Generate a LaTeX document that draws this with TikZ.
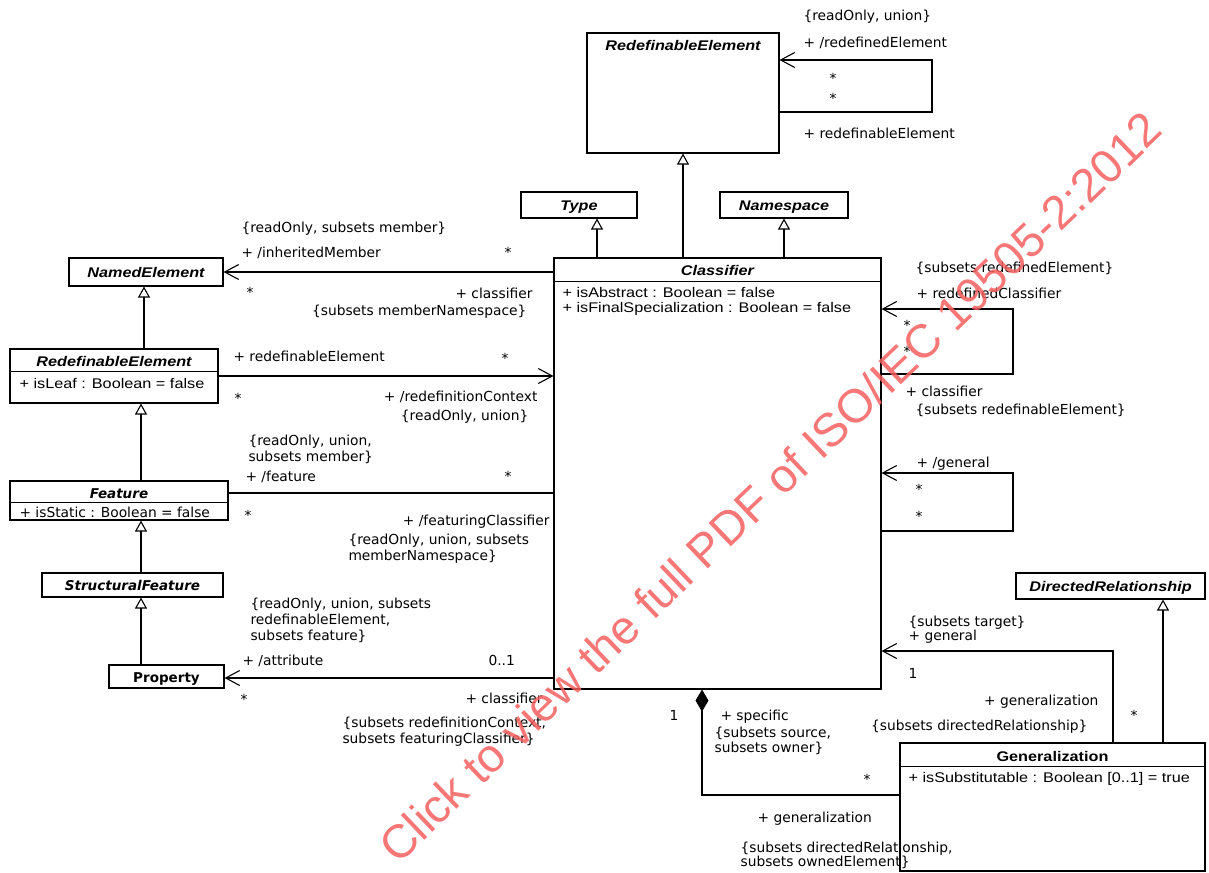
\documentclass[tikz,border=0pt]{standalone}
\usepackage{fontspec}
\usetikzlibrary{arrows.meta}
\newfontfamily\arialf[FakeStretch=1.16]{Liberation Sans}
\newfontfamily\verdf{DejaVu Sans}
\newfontfamily\wmfont{Liberation Sans}
\definecolor{wmred}{RGB}{246,96,96}

\begin{document}
\begin{tikzpicture}[x=1pt,y=-1pt,line width=1.1pt,
  box/.style={draw, inner sep=0pt},
  lab/.style={font=\verdf\fontsize{13.8}{16}\selectfont, inner sep=0pt},
  llab/.style={lab, anchor=base west},
  rlab/.style={lab, anchor=base east},
  star/.style={lab, anchor=base},
  mlab/.style={lab, align=left, anchor=north west},
  attr/.style={font=\arialf\fontsize{14}{15}\selectfont, inner sep=0pt, anchor=base west},
  cname/.style={font=\arialf\bfseries\itshape\fontsize{14}{16}\selectfont, inner sep=0pt, anchor=base},
  cnameb/.style={font=\arialf\bfseries\fontsize{14}{16}\selectfont, inner sep=0pt, anchor=base},
  vname/.style={font=\verdf\bfseries\itshape\fontsize{13.5}{16}\selectfont, inner sep=0pt, anchor=base},
  vnameb/.style={font=\verdf\bfseries\fontsize{13.5}{16}\selectfont, inner sep=0pt, anchor=base},
  inh/.style={-{Triangle[open, length=11pt, width=12pt]}},
  nav/.style={-{Straight Barb[length=14pt, width=15pt]}},
  comp/.style={-{Diamond[length=22pt, width=13pt]}},
]
\fill[white] (0,0) rectangle (1209,872);
\useasboundingbox (0,0) rectangle (1209,872);

% ---------- classes ----------
\node[box, minimum width=192pt, minimum height=120pt] (reTop) at (683,93) {};
\node[cname] (reTopT) at (683,51) {RedefinableElement};

\node[box, minimum width=116pt, minimum height=26pt] (type) at (579,205) {};
\node[cname] (typeT) at (579,210) {Type};

\node[box, minimum width=128pt, minimum height=26pt] (ns) at (784,205) {};
\node[cname] (nsT) at (784,210) {Namespace};

\node[box, minimum width=154pt, minimum height=28pt] (named) at (146,272) {};
\node[cname] (namedT) at (146,277) {NamedElement};

\node[box, minimum width=208pt, minimum height=54pt] (reLeft) at (114,376) {};
\draw ([yshift=-23pt]reLeft.north west) -- ([yshift=-23pt]reLeft.north east);
\node[cname] (reLeftT) at (114,366) {RedefinableElement};
\node[attr] (reLeftA) at (19,388) {+ isLeaf : Boolean = false};

\node[box, minimum width=218pt, minimum height=39pt] (feat) at (119,500.5) {};
\draw ([yshift=-22pt]feat.north west) -- ([yshift=-22pt]feat.north east);
\node[vname] (featT) at (119,498) {Feature};
\node[lab, anchor=base west] (featA) at (19,517) {+ isStatic : Boolean = false};

\node[box, minimum width=181pt, minimum height=24pt] (sf) at (132.5,585) {};
\node[vname] (sfT) at (132.5,590) {StructuralFeature};

\node[box, minimum width=115pt, minimum height=23pt] (prop) at (166.5,676.5) {};
\node[vnameb] (propT) at (166.5,682) {Property};

\node[box, minimum width=327pt, minimum height=431pt] (cls) at (717.5,473.5) {};
\draw ([yshift=-24pt]cls.north west) -- ([yshift=-24pt]cls.north east);
\node[cname] (clsT) at (717.5,275) {Classifier};
\node[attr] (clsA1) at (562,297) {+ isAbstract : Boolean = false};
\node[attr] (clsA2) at (562,312) {+ isFinalSpecialization : Boolean = false};

\node[box, minimum width=189pt, minimum height=26pt] (dr) at (1110.5,586) {};
\node[cname] (drT) at (1110.5,591) {DirectedRelationship};

\node[box, minimum width=305pt, minimum height=128pt] (gen) at (1052.5,807) {};
\draw ([yshift=-24pt]gen.north west) -- ([yshift=-24pt]gen.north east);
\node[cnameb] (genT) at (1052.5,761) {Generalization};
\node[attr] (genA) at (908,782) {+ isSubstitutable : Boolean [0..1] = true};

% ---------- bend points and line positions ----------
\coordinate (xType) at (597,0);
\coordinate (xNE) at (144,0);
\coordinate (xLeft) at (141,0);
\coordinate (xDR) at (1163,0);
\coordinate (yFeat) at (0,493);
\coordinate (rt1) at (932,60);
\coordinate (rt2) at (932,112);
\coordinate (rc1) at (1013,309);
\coordinate (rc2) at (1013,374);
\coordinate (gc1) at (1013,473);
\coordinate (gc2) at (1013,531);
\coordinate (gg) at (1113,651);
\coordinate (cp) at (702,795);

% ---------- generalizations ----------
\draw[inh] (cls.north -| reTop.south) -- (reTop.south);
\draw[inh] (cls.north -| xType) -- (type.south -| xType);
\draw[inh] (cls.north -| ns.south) -- (ns.south);
\draw[inh] (reLeft.north -| xNE) -- (named.south -| xNE);
\draw[inh] (feat.north -| xLeft) -- (reLeft.south -| xLeft);
\draw[inh] (sf.north -| xLeft) -- (feat.south -| xLeft);
\draw[inh] (prop.north -| xLeft) -- (sf.south -| xLeft);
\draw[inh] (gen.north -| xDR) -- (dr.south -| xDR);

% ---------- associations ----------
\draw[nav] (reTop.east |- rt2) -- (rt2) -- (rt1) -- (reTop.east |- rt1);
\draw[nav] (cls.west |- named.east) -- (named.east);
\draw[nav] (reLeft.east) -- (cls.west |- reLeft.east);
\draw (feat.east |- yFeat) -- (cls.west |- yFeat);
\draw[nav] (cls.west |- 0,678) -- (prop.east |- 0,678);
\draw[nav] (cls.east |- rc2) -- (rc2) -- (rc1) -- (cls.east |- rc1);
\draw[nav] (cls.east |- gc2) -- (gc2) -- (gc1) -- (cls.east |- gc1);
\draw[nav] (gen.north -| gg) -- (gg) -- (cls.east |- gg);
\draw[comp] (gen.west |- cp) -- (cp) -- (cls.south -| cp);

% ---------- association end labels ----------
\node[llab] (l01) at (803,21) {\{readOnly, union\}};
\node[llab] (l02) at (803,48) {+ /redefinedElement};
\node[star] (l03) at (833,84) {*};
\node[star] (l04) at (833,104) {*};
\node[llab] (l05) at (803,139) {+ redefinableElement};

\node[llab] (l06) at (241,232) {\{readOnly, subsets member\}};
\node[llab] (l07) at (241,257) {+ /inheritedMember};
\node[star] (l08) at (508,257) {*};
\node[star] (l09) at (250,297) {*};
\node[rlab] (l10) at (533,298) {+ classifier};
\node[rlab] (l11) at (527,315) {\{subsets memberNamespace\}};

\node[llab] (l12) at (233,361) {+ redefinableElement};
\node[star] (l13) at (505,363) {*};
\node[star] (l14) at (238,403) {*};
\node[rlab] (l15) at (538,401) {+ /redefinitionContext};
\node[rlab] (l16) at (529,420) {\{readOnly, union\}};

\node[mlab] (l17) at (248,434) {\{readOnly, union,\\subsets member\}};
\node[llab] (l18) at (245,481) {+ /feature};
\node[star] (l19) at (508,481) {*};
\node[star] (l20) at (248,520) {*};
\node[rlab] (l21) at (550,525) {+ /featuringClassifier};
\node[mlab] (l22) at (348,533) {\{readOnly, union, subsets\\memberNamespace\}};

\node[mlab] (l23) at (250,597) {\{readOnly, union, subsets\\redefinableElement,\\subsets feature\}};
\node[llab] (l24) at (242,665) {+ /attribute};
\node[llab] (l25) at (488,665) {0..1};
\node[star] (l26) at (244,704) {*};
\node[rlab] (l27) at (543,703) {+ classifier};
\node[mlab] (l28) at (342,716) {\{subsets redefinitionContext,\\subsets featuringClassifier\}};

\node[llab] (l29) at (915,272) {\{subsets redefinedElement\}};
\node[llab] (l30) at (916,298) {+ redefinedClassifier};
\node[star] (l31) at (907,330) {*};
\node[star] (l32) at (907,356) {*};
\node[llab] (l33) at (905,396) {+ classifier};
\node[llab] (l34) at (915,414) {\{subsets redefinableElement\}};

\node[llab] (l35) at (916,467) {+ /general};
\node[star] (l36) at (919,494) {*};
\node[star] (l37) at (919,521) {*};

\node[mlab, font=\verdf\fontsize{13.8}{13}\selectfont] (l38) at (908,615) {\{subsets target\}\\+ general};
\node[llab] (l39) at (908,678) {1};
\node[rlab] (l40) at (1099,705) {+ generalization};
\node[star] (l41) at (1134,720) {*};
\node[rlab] (l42) at (1088,730) {\{subsets directedRelationship\}};

\node[llab] (l43) at (669,720) {1};
\node[llab] (l44) at (720,720) {+ specific};
\node[mlab, font=\verdf\fontsize{13.8}{15}\selectfont] (l45) at (714,726) {\{subsets source,\\subsets owner\}};
\node[star] (l46) at (867,784) {*};
\node[llab] (l47) at (757,822) {+ generalization};
\node[mlab, font=\verdf\fontsize{13.8}{14}\selectfont] (l48) at (740,841) {\{subsets directedRelationship,\\subsets ownedElement\}};

% ---------- watermark ----------
\node[font=\wmfont\fontsize{47}{47}\selectfont, text=wmred, opacity=0.85,
      rotate=43.7, inner sep=0pt] (wm) at (770,487)
      {Click to view the full PDF of ISO/IEC 19505-2:2012};
\end{tikzpicture}
\end{document}
